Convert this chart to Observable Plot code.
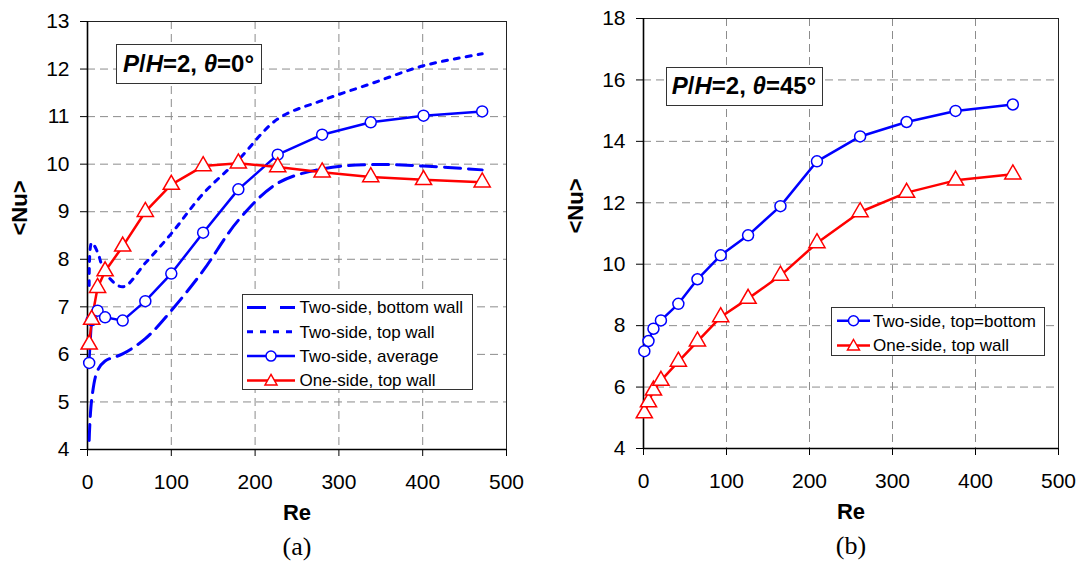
<!DOCTYPE html>
<html><head><meta charset="utf-8">
<script src="https://cdn.jsdelivr.net/npm/d3@7"></script>
<script src="https://cdn.jsdelivr.net/npm/@observablehq/plot@0.6"></script>
<style>
body{margin:0;background:#fff;}
#wrap{position:relative;width:1079px;height:568px;font-family:"Liberation Sans",Arial,sans-serif;color:#000;overflow:hidden;}
.panel{position:absolute;top:0;}
.note{position:absolute;background:#fff;border:1px solid #333;font-weight:bold;font-size:24px;line-height:1;display:flex;align-items:center;justify-content:center;box-sizing:border-box;white-space:nowrap;}
.legend{position:absolute;background:#fff;border:1px solid #333;box-sizing:border-box;font-size:17px;}
.legend svg{position:absolute;left:0;top:0;overflow:visible;}
</style></head><body><div id="wrap"></div>
<script>
// ---- Panel (a): P/H=2, theta=0 ----
const reA = [2, 5, 12, 21, 42, 69, 100, 138, 180, 227, 280, 338, 401, 471];
const bottomWallA = [4.19, 5.05, 5.66, 5.86, 6.01, 6.33, 6.92, 7.76, 8.82, 9.60, 9.90, 9.99, 9.96, 9.88];
const topWallA = [7.45, 8.35, 8.15, 7.72, 7.42, 7.92, 8.54, 9.38, 10.09, 10.95, 11.34, 11.69, 12.07, 12.32];
const averageA = [5.82, 6.72, 6.92, 6.78, 6.71, 7.12, 7.70, 8.56, 9.47, 10.20, 10.62, 10.88, 11.02, 11.11];
const oneSideA = [6.21, 6.73, 7.40, 7.75, 8.27, 9.00, 9.57, 9.96, 10.02, 9.94, 9.83, 9.73, 9.67, 9.62];
const yTicksA = [4, 5, 6, 7, 8, 9, 10, 11, 12, 13];

// ---- Panel (b): P/H=2, theta=45 ----
const reB = [1, 6, 12, 21, 42, 65, 93, 126, 165, 209, 261, 317, 376, 445];
const twoSideB = [7.17, 7.50, 7.90, 8.17, 8.71, 9.51, 10.29, 10.94, 11.89, 13.35, 14.16, 14.63, 14.99, 15.20];
const oneSideB = [5.15, 5.51, 5.89, 6.21, 6.83, 7.49, 8.28, 8.88, 9.63, 10.69, 11.70, 12.33, 12.73, 12.93];
const yTicksB = [4, 6, 8, 10, 12, 14, 16, 18];

const xTicks = [0, 100, 200, 300, 400, 500];
const xGrid = [100, 200, 300, 400];

const legendA = ["Two-side, bottom wall", "Two-side, top wall", "Two-side, average", "One-side, top wall"];
const legendB = ["Two-side, top=bottom", "One-side, top wall"];
const notes = {a: ["P", "H", "2", "θ", "0"], b: ["P", "H", "2", "θ", "45"]};

const BLUE = "#0000ff", RED = "#ff0000";
const wrap = document.getElementById("wrap");

const tableA = reA.map((re, i) => ({re, bottom: bottomWallA[i], top: topWallA[i], avg: averageA[i], one: oneSideA[i]}));
const tableB = reB.map((re, i) => ({re, two: twoSideB[i], one: oneSideB[i]}));

function commonMarks(yTicks, yMin, caption, xGridT) {
  return [
    Plot.gridY({ticks: yTicks, stroke: "#8c8c8c", strokeOpacity: 1, strokeWidth: 1, strokeDasharray: "8,5"}),
    Plot.gridX({ticks: xGridT, stroke: "#8c8c8c", strokeOpacity: 1, strokeWidth: 1, strokeDasharray: "8,5"}),
    Plot.frame({stroke: "#222", strokeWidth: 1}),
    Plot.ruleX([0], {stroke: "#000", strokeWidth: 1.6}),
    Plot.ruleY([yMin], {stroke: "#000", strokeWidth: 1.6}),
    Plot.axisX({ticks: xTicks, tickSize: 7, tickPadding: 18, fontSize: 21, label: null, stroke: "#000"}),
    Plot.axisY({ticks: yTicks, tickSize: 7, tickPadding: 11, fontSize: 21, label: null, stroke: "#000"}),
    Plot.text(["Re"], {text: d => d, frameAnchor: "bottom", dy: 70, fontSize: 22, fontWeight: "bold", fill: "#000"}),
    Plot.text(["<Nu>"], {text: d => d, frameAnchor: "left", dx: -68, rotate: -90, fontSize: 22, fontWeight: "bold", fill: "#000"}),
    Plot.text([caption], {text: d => d, frameAnchor: "bottom", dy: 105, fontSize: 26, fontFamily: "Liberation Serif", fill: "#000"})
  ];
}

const plotA = Plot.plot({
  width: 540, height: 568,
  marginLeft: 87, marginRight: 34, marginTop: 21, marginBottom: 119,
  style: {fontFamily: "Liberation Sans", fontSize: "21px", color: "#000", background: "transparent", overflow: "visible"},
  x: {domain: [0, 500], label: null},
  y: {domain: [4, 13], label: null},
  marks: [
    ...commonMarks(yTicksA, 4, "(a)", xGrid),
    Plot.line(tableA, {x: "re", y: "bottom", stroke: BLUE, strokeWidth: 3, strokeDasharray: "16,8", curve: "catmull-rom"}),
    Plot.line(tableA, {x: "re", y: "top", stroke: BLUE, strokeWidth: 3, strokeDasharray: "5,7", curve: "catmull-rom"}),
    Plot.line(tableA, {x: "re", y: "avg", stroke: BLUE, strokeWidth: 2.5}),
    Plot.line(tableA, {x: "re", y: "one", stroke: RED, strokeWidth: 2.5}),
    Plot.dot(tableA, {x: "re", y: "avg", r: 5.5, stroke: BLUE, fill: "#fff", strokeWidth: 1.5}),
    Plot.dot(tableA, {x: "re", y: "one", r: 6, symbol: "triangle", stroke: RED, fill: "#fff", strokeWidth: 1.5})
  ]
});
plotA.classList.add("panel");
plotA.style.left = "0px";
wrap.appendChild(plotA);

const plotB = Plot.plot({
  width: 539, height: 568,
  marginLeft: 103, marginRight: 21, marginTop: 18, marginBottom: 120,
  style: {fontFamily: "Liberation Sans", fontSize: "21px", color: "#000", background: "transparent", overflow: "visible"},
  x: {domain: [0, 500], label: null},
  y: {domain: [4, 18], label: null},
  marks: [
    ...commonMarks(yTicksB, 4, "(b)", xGrid),
    Plot.line(tableB, {x: "re", y: "two", stroke: BLUE, strokeWidth: 2.5}),
    Plot.line(tableB, {x: "re", y: "one", stroke: RED, strokeWidth: 2.5}),
    Plot.dot(tableB, {x: "re", y: "two", r: 5.5, stroke: BLUE, fill: "#fff", strokeWidth: 1.5}),
    Plot.dot(tableB, {x: "re", y: "one", r: 6, symbol: "triangle", stroke: RED, fill: "#fff", strokeWidth: 1.5})
  ]
});
plotB.classList.add("panel");
plotB.style.left = "540px";
wrap.appendChild(plotB);

// annotation boxes
function addNote(n, left, top, w, h) {
  const d = document.createElement("div");
  d.className = "note";
  Object.assign(d.style, {left: left + "px", top: top + "px", width: w + "px", height: h + "px"});
  d.innerHTML = `<span><i>${n[0]}</i>/<i>${n[1]}</i>=${n[2]}, <i>${n[3]}</i>=${n[4]}°</span>`;
  wrap.appendChild(d);
}
addNote(notes.a, 115.5, 44, 146, 40);
addNote(notes.b, 665.5, 66.5, 157, 39);

// legends
function sample(kind, x0, x1, y) {
  const mid = (x0 + x1) / 2;
  if (kind === "dash") return `<line x1="${x0}" x2="${x1}" y1="${y}" y2="${y}" stroke="${BLUE}" stroke-width="3" stroke-dasharray="19,14"/>`;
  if (kind === "dot") return `<line x1="${x0}" x2="${x1}" y1="${y}" y2="${y}" stroke="${BLUE}" stroke-width="3" stroke-dasharray="6,7"/>`;
  if (kind === "circle") return `<line x1="${x0}" x2="${x1}" y1="${y}" y2="${y}" stroke="${BLUE}" stroke-width="2.5"/><circle cx="${mid}" cy="${y}" r="5" fill="#fff" stroke="${BLUE}" stroke-width="1.5"/>`;
  return `<line x1="${x0}" x2="${x1}" y1="${y}" y2="${y}" stroke="${RED}" stroke-width="2.5"/><path d="M${mid},${y-6}L${mid+6},${y+4.5}L${mid-6},${y+4.5}Z" fill="#fff" stroke="${RED}" stroke-width="1.5"/>`;
}
function addLegend(labels, kinds, left, top, w, h, rows, x0, x1, tx) {
  const d = document.createElement("div");
  d.className = "legend";
  Object.assign(d.style, {left: left + "px", top: top + "px", width: w + "px", height: h + "px"});
  let svg = `<svg width="${w}" height="${h}">`;
  labels.forEach((lab, i) => {
    svg += sample(kinds[i], x0, x1, rows[i]);
    svg += `<text x="${tx}" y="${rows[i]}" dy="0.35em" font-size="17" font-family="Liberation Sans" fill="#000">${lab}</text>`;
  });
  svg += `</svg>`;
  d.innerHTML = svg;
  wrap.appendChild(d);
}
addLegend(legendA, ["dash", "dot", "circle", "tri"], 241.5, 294, 231, 96, [12.5, 36.8, 61.1, 85.4], 4, 52, 56.5);
addLegend(legendB, ["circle", "tri"], 831, 306.5, 214, 49, [12.8, 37.5], 5, 38, 41);
</script></body></html>
